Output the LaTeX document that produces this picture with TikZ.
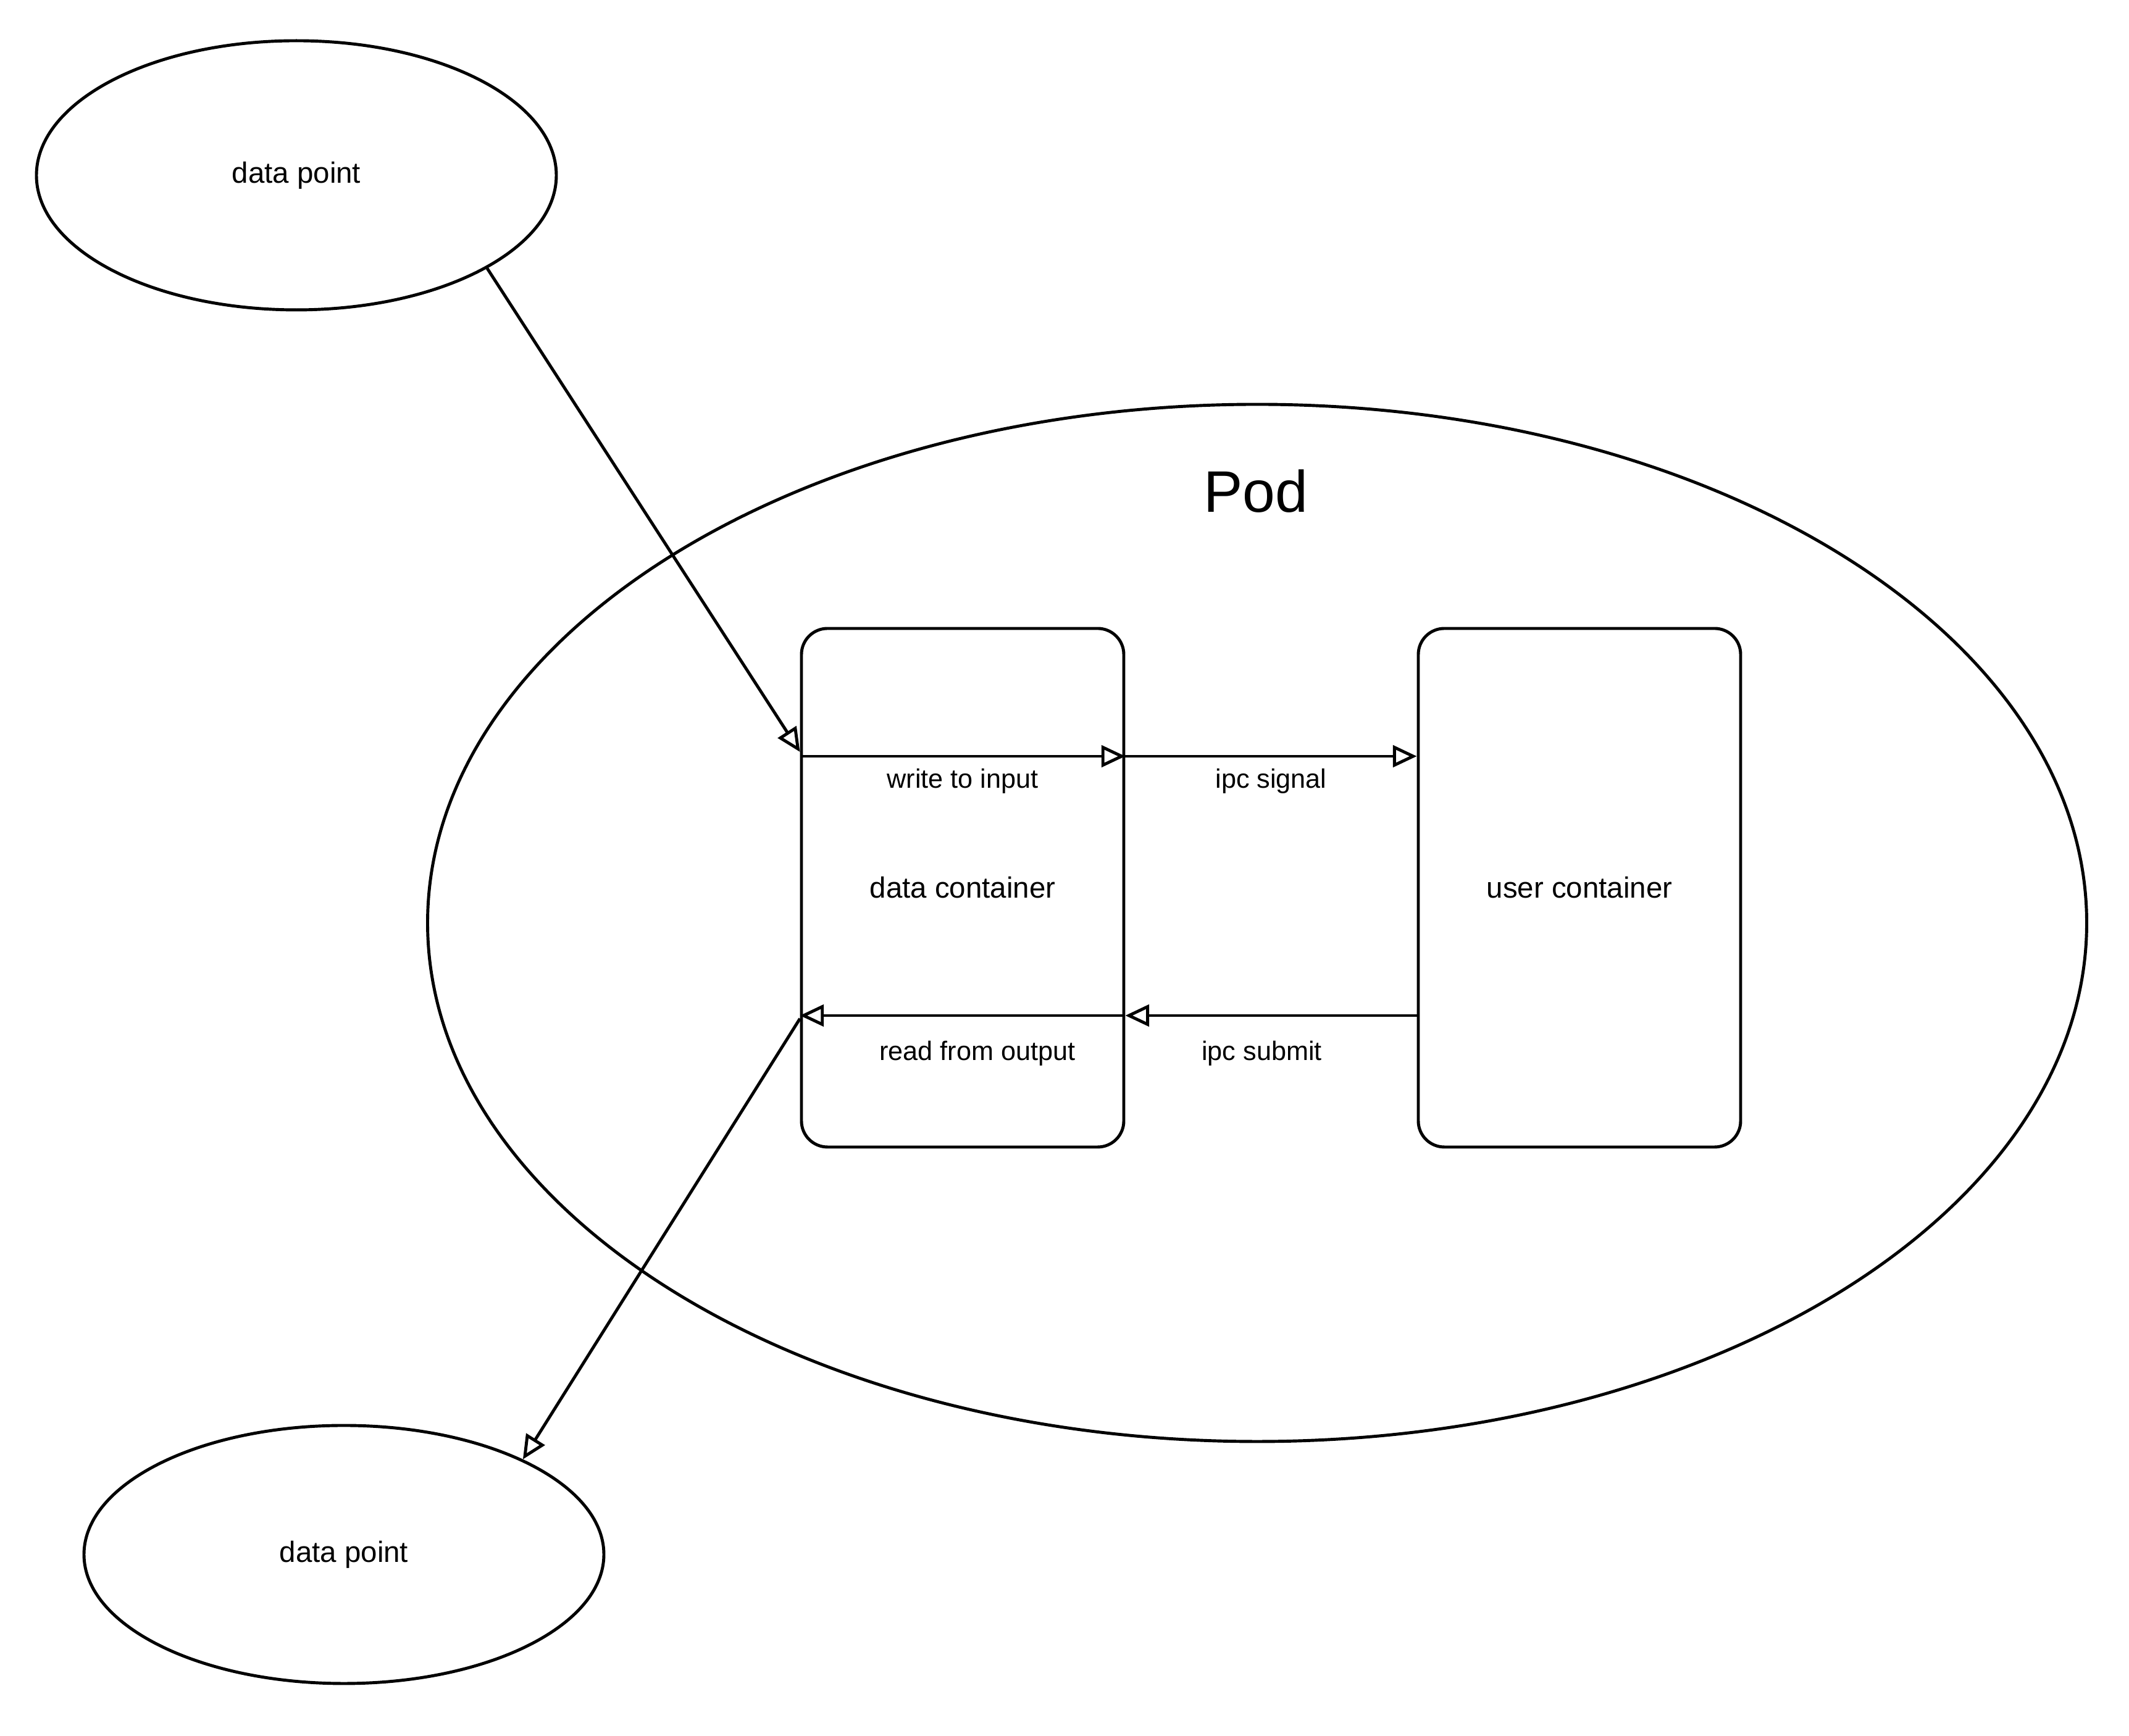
\documentclass[tikz,border=0pt]{standalone}
\usepackage{fontspec}
\setmainfont{Liberation Sans}
\usetikzlibrary{arrows.meta, positioning, shapes.geometric}

\begin{document}
\begin{tikzpicture}[
        sketch/.style={draw=black, line width=1.4pt},
        blob/.style={sketch, ellipse, inner sep=0pt,
                     font=\fontsize{13.5}{16}\selectfont},
        cbox/.style={sketch, rectangle, rounded corners=12pt,
                     minimum width=5.22cm, minimum height=8.4cm,
                     font=\fontsize{13.5}{16}\selectfont},
        flow/.style={sketch, -{Triangle[open, length=11pt, width=10pt]}},
        lbl/.style={fill=white, inner sep=2pt, below=3pt,
                    font=\fontsize{12.3}{15}\selectfont},
      ]
        \useasboundingbox (0,0) rectangle (34.48,28.12);
        % pod and its containers
        \node[blob, minimum width=26.87cm, minimum height=16.8cm] (pod) at (20.36,13.17) {};
        \node[font=\fontsize{27}{32}\selectfont] (podname) at (20.34,20.16) {Pod};
        \node[cbox] (dc) at (15.59,13.74) {data container};
        \node[cbox] (uc) at (25.58,13.74) {user container};
        % data points outside
        \node[blob, minimum width=8.42cm, minimum height=4.36cm] (dpin) at (4.80,25.28) {data point};
        \node[blob, minimum width=8.42cm, minimum height=4.18cm] (dpout) at (5.57,2.94) {data point};

        \draw[flow] (dpin.-26) -- ([yshift=2.2cm]dc.west);
        \draw[flow] ([yshift=2.13cm]dc.west) -- node[lbl] {write to input} ([yshift=2.13cm]dc.east);
        \draw[flow] ([yshift=2.13cm]dc.east) -- node[lbl] {ipc signal} ([yshift=2.13cm]uc.west);
        \draw[flow] ([yshift=-2.07cm]uc.west) -- node[lbl, below=9pt, xshift=-0.15cm] {ipc submit} ([yshift=-2.07cm]dc.east);
        \draw[flow] ([yshift=-2.07cm]dc.east) -- node[lbl, below=9pt, xshift=0.24cm] {read from output} ([yshift=-2.07cm]dc.west);
        \draw[flow] ([yshift=-2.12cm]dc.west) -- (dpout.28);
      \end{tikzpicture}
\end{document}
